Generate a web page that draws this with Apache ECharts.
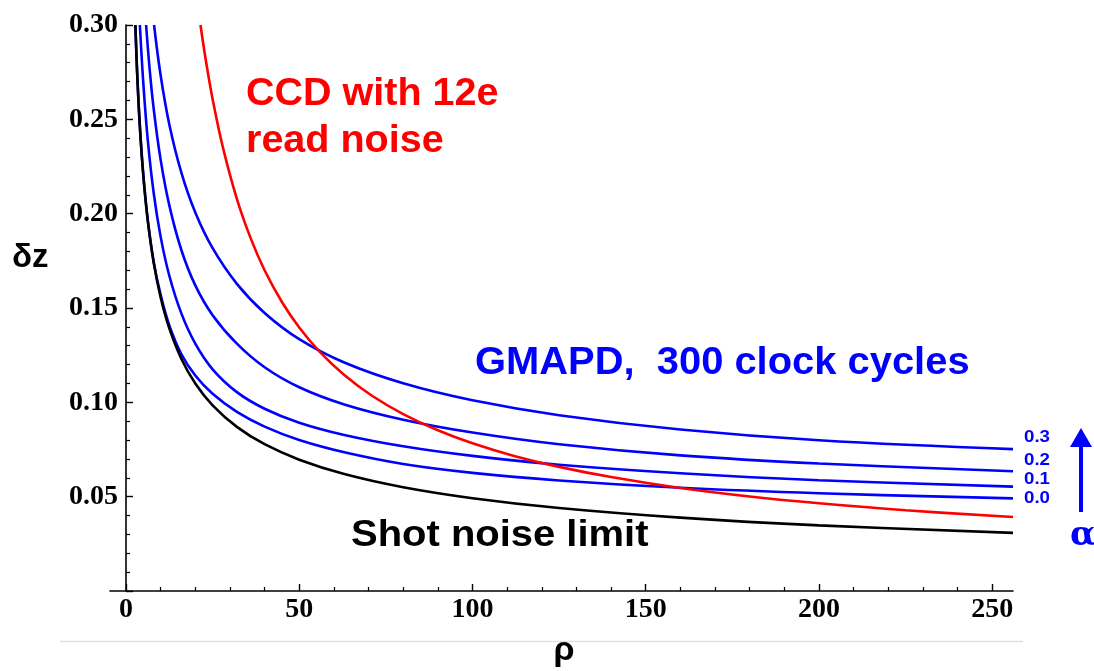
<!DOCTYPE html>
<html>
<head>
<meta charset="utf-8">
<script src="https://cdn.jsdelivr.net/npm/echarts@6/dist/echarts.min.js"></script>
<style>
html,body{margin:0;padding:0;background:#fff;}
#chart{width:1094px;height:671px;}
</style>
</head>
<body>
<div id="chart"></div>
<script>
// ---- data ----
var xMajorTicks = [0, 50, 100, 150, 200, 250];
var xMinorTicks = [10, 20, 30, 40, 60, 70, 80, 90, 110, 120, 130, 140, 160, 170, 180, 190, 210, 220, 230, 240];
var yTickValues = [0.05, 0.10, 0.15, 0.20, 0.25, 0.30];

var rhoShot = [2.7, 3.2, 4, 5, 6.3, 8, 10, 12.5, 16, 20, 25, 32, 40, 50, 63, 80, 100, 125, 160, 200, 256];
var dzShot  = [0.300, 0.2750, 0.2460, 0.2200, 0.1960, 0.1740, 0.1556, 0.1392, 0.1230, 0.1100, 0.0984, 0.0870, 0.0778, 0.0696, 0.0620, 0.0550, 0.0492, 0.0440, 0.0389, 0.0348, 0.0308];

var rhoCCD = [21.5, 23, 25, 28, 32, 36, 40, 45, 50, 56, 63, 71, 80, 90, 100, 112, 125, 140, 160, 180, 200, 225, 256];
var dzCCD  = [0.3000, 0.2817, 0.2607, 0.2349, 0.2079, 0.1869, 0.1700, 0.1532, 0.1397, 0.1266, 0.1145, 0.1035, 0.0938, 0.0852, 0.0783, 0.0716, 0.0658, 0.0604, 0.0546, 0.0501, 0.0465, 0.0428, 0.0392];

var rhoA0 = [2.7, 3.2, 4, 5, 6.3, 8, 10, 12.5, 16, 20, 25, 32, 40, 50, 63, 80, 100, 125, 160, 200, 256];
var dzA0  = [0.300, 0.2756, 0.2465, 0.2205, 0.1964, 0.1743, 0.1570, 0.1408, 0.1255, 0.1142, 0.1045, 0.0949, 0.0871, 0.0800, 0.0735, 0.0673, 0.0626, 0.0586, 0.0547, 0.0518, 0.0491];

var rhoA1 = [4, 5, 6.3, 8, 10, 12.5, 16, 20, 25, 32, 40, 50, 63, 80, 100, 125, 160, 200, 256];
var dzA1  = [0.300, 0.2691, 0.2387, 0.2108, 0.1877, 0.1671, 0.1470, 0.1311, 0.1175, 0.1054, 0.0966, 0.0892, 0.0827, 0.0767, 0.0716, 0.0669, 0.0624, 0.0587, 0.0553];

var rhoA2 = [5.8, 6.8, 8, 10, 12.5, 16, 20, 25, 32, 40, 50, 63, 80, 100, 125, 160, 200, 256];
var dzA2  = [0.300, 0.2771, 0.2554, 0.2285, 0.2044, 0.1806, 0.1620, 0.1462, 0.1311, 0.1186, 0.1080, 0.0989, 0.0908, 0.0840, 0.0778, 0.0719, 0.0676, 0.0635];

var rhoA3 = [8.1, 10, 12.5, 16, 20, 25, 32, 40, 50, 63, 80, 100, 125, 160, 200, 256];
var dzA3  = [0.300, 0.2732, 0.2473, 0.2216, 0.2006, 0.1817, 0.1628, 0.1474, 0.1335, 0.1211, 0.1101, 0.1011, 0.0932, 0.0856, 0.0799, 0.0752];

var alphaLabels = ['0.3', '0.2', '0.1', '0.0'];

function pairs(xs, ys) { return xs.map(function (x, i) { return [x, ys[i]]; }); }

var BLUE = '#0000ff', RED = '#ff0000', BLACK = '#000000';
var tickFont = { fontFamily: 'Liberation Serif', fontWeight: 'bold', fontSize: 28, color: '#000' };

function lineSeries(name, xs, ys, color, z) {
  return {
    name: name, type: 'line', data: pairs(xs, ys), xAxisIndex: 0, yAxisIndex: 0,
    showSymbol: false, symbol: 'none', smooth: 0.4, clip: true,
    lineStyle: { color: color, width: 2.6 }, z: z, silent: true
  };
}

var chart = echarts.init(document.getElementById('chart'), null, { renderer: 'canvas' });
var option = {
  backgroundColor: '#ffffff',
  animation: false,
  grid: { left: 110, right: 81, top: 25, bottom: 80 },
  xAxis: [
    {
      type: 'value', min: -4.62, max: 256, position: 'bottom',
      axisLine: { show: true, onZero: true, lineStyle: { color: '#000', width: 1.6 } },
      axisTick: { show: true, inside: true, length: 7, customValues: xMajorTicks, lineStyle: { color: '#000', width: 1.4 } },
      axisLabel: Object.assign({ customValues: xMajorTicks, margin: 5 }, tickFont),
      splitLine: { show: false }
    },
    {
      type: 'value', min: -4.62, max: 256, position: 'bottom',
      axisLine: { show: false },
      axisTick: { show: true, inside: true, length: 4, customValues: xMinorTicks, lineStyle: { color: '#000', width: 1.2 } },
      axisLabel: { show: false },
      splitLine: { show: false }
    }
  ],
  yAxis: {
    type: 'value', min: 0, max: 0.3, interval: 0.05,
    axisLine: { show: true, onZero: true, onZeroAxisIndex: 0, lineStyle: { color: '#000', width: 1.6 } },
    axisTick: { show: true, inside: true, length: 7, lineStyle: { color: '#000', width: 1.4 } },
    minorTick: { show: true, splitNumber: 5, length: 4, lineStyle: { color: '#000', width: 1.2 } },
    axisLabel: Object.assign({
      margin: -8,
      formatter: function (v) { return yTickValues.some(function (t) { return Math.abs(t - v) < 1e-9; }) ? v.toFixed(2) : ''; }
    }, tickFont),
    splitLine: { show: false },
    minorSplitLine: { show: false }
  },
  series: [
    lineSeries('α=0.0', rhoA0, dzA0, BLUE, 2),
    lineSeries('α=0.1', rhoA1, dzA1, BLUE, 2),
    lineSeries('α=0.2', rhoA2, dzA2, BLUE, 2),
    lineSeries('α=0.3', rhoA3, dzA3, BLUE, 2),
    lineSeries('CCD with 12e read noise', rhoCCD, dzCCD, RED, 3),
    lineSeries('Shot noise limit', rhoShot, dzShot, BLACK, 4)
  ],
  graphic: [
    { type: 'line', shape: { x1: 60, y1: 641.5, x2: 1023, y2: 641.5 }, style: { stroke: '#dce1e8', lineWidth: 1.6 }, silent: true },
    { type: 'text', x: 12, y: 258, style: { text: 'δz', font: 'bold 33px "Liberation Sans"', fill: '#000', textVerticalAlign: 'middle' } },
    { type: 'text', x: 564, y: 651, style: { text: 'ρ', font: 'bold 34px "Liberation Sans"', fill: '#000', textAlign: 'center', textVerticalAlign: 'middle' } },
    { type: 'text', x: 246, y: 95, scaleX: 1.04, style: { text: 'CCD with 12e', font: 'bold 38px "Liberation Sans"', fill: RED, textVerticalAlign: 'middle' } },
    { type: 'text', x: 246, y: 142, scaleX: 1.04, style: { text: 'read noise', font: 'bold 38px "Liberation Sans"', fill: RED, textVerticalAlign: 'middle' } },
    { type: 'text', x: 475, y: 364, scaleX: 1.05, style: { text: 'GMAPD,  300 clock cycles', font: 'bold 38px "Liberation Sans"', fill: BLUE, textVerticalAlign: 'middle' } },
    { type: 'text', x: 351, y: 536, scaleX: 1.08, style: { text: 'Shot noise limit', font: 'bold 37px "Liberation Sans"', fill: BLACK, textVerticalAlign: 'middle' } },
    { type: 'text', x: 1024, y: 437, scaleX: 1.1, style: { text: alphaLabels[0], font: 'bold 17px "Liberation Sans"', fill: BLUE, textVerticalAlign: 'middle' } },
    { type: 'text', x: 1024, y: 460, scaleX: 1.1, style: { text: alphaLabels[1], font: 'bold 17px "Liberation Sans"', fill: BLUE, textVerticalAlign: 'middle' } },
    { type: 'text', x: 1024, y: 479, scaleX: 1.1, style: { text: alphaLabels[2], font: 'bold 17px "Liberation Sans"', fill: BLUE, textVerticalAlign: 'middle' } },
    { type: 'text', x: 1024, y: 498, scaleX: 1.1, style: { text: alphaLabels[3], font: 'bold 17px "Liberation Sans"', fill: BLUE, textVerticalAlign: 'middle' } },
    { type: 'line', shape: { x1: 1081, y1: 445, x2: 1081, y2: 512 }, style: { stroke: BLUE, lineWidth: 4 }, silent: true },
    { type: 'polygon', shape: { points: [[1081, 428], [1070, 447], [1092, 447]] }, style: { fill: BLUE }, silent: true },
    { type: 'text', x: 1083, y: 536, style: { text: 'α', font: 'bold 34px "DejaVu Serif"', fill: BLUE, textAlign: 'center', textVerticalAlign: 'middle' } }
  ]
};
chart.setOption(option);
</script>
</body>
</html>
